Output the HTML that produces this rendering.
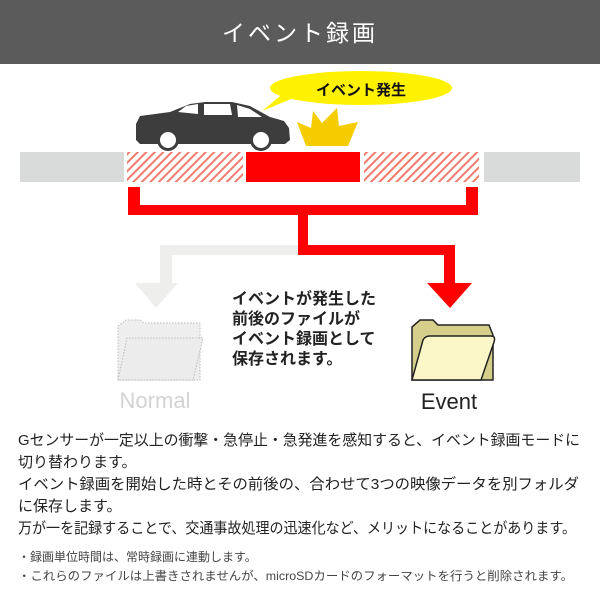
<!DOCTYPE html>
<html><head><meta charset="utf-8"><style>
body{margin:0;background:#fff}
svg{display:block}
text{font-family:"Liberation Sans","Noto Sans CJK JP",sans-serif}
</style></head><body>
<svg width="600" height="600" viewBox="0 0 600 600" xmlns="http://www.w3.org/2000/svg">
<defs>
<pattern id="h" width="6" height="6" patternUnits="userSpaceOnUse" patternTransform="rotate(45)">
<rect width="6" height="6" fill="#fff"/><rect width="2" height="6" fill="#f47a6e"/>
</pattern>
</defs>
<rect x="0" y="0" width="600" height="64" fill="#5b5b5b"/>
<text x="300" y="41" font-size="23" fill="#fff" text-anchor="middle" letter-spacing="3">イベント録画</text>

<rect x="20" y="152" width="560" height="30" fill="#d9dbdb"/>
<rect x="124" y="150" width="360" height="34" fill="#fff"/>
<rect x="127" y="152" width="116" height="30" fill="url(#h)"/>
<rect x="246" y="152" width="114" height="30" fill="#f00"/>
<rect x="364" y="152" width="115" height="30" fill="url(#h)"/>

<path d="M160 245 H300 V255 H172 V283 H178 L156 308 L135 283 H160 Z" fill="#eeeeec"/>
<path d="M128 187 H140 V205 H466 V187 H478 V215 H308 V245 H455 V283 H472 L450 308 L427 283 H444 V255 H298 V215 H128 Z" fill="#f00"/>

<ellipse cx="361" cy="88" rx="91" ry="17" fill="#fff200"/>
<path d="M285 92 L262 111 L296 97 Z" fill="#fff200"/>
<text x="361" y="95" font-size="15" font-weight="bold" fill="#111" text-anchor="middle">イベント発生</text>
<path d="M297 122 L311 128 L313 111 L322 123 L337 108 L339 126 L358 122 L348 146 L306 146 Z" fill="#f5cc00"/>

<!-- car -->
<path d="M136 140 L136 124 L140 116 L170 112 L190 104 L205 102 L232 102 L250 106 L270 117 L284 121 L289 128 L290 140 L285 144 L140 144 Z" fill="#3d3d3d"/>
<path d="M178 112 L186 106 L198 104 L198 114 Z M204 104 L230 104 L232 115 L204 115 Z M237 105 L250 109 L262 117 L238 117 Z" fill="#fff"/>
<circle cx="168" cy="140" r="11" fill="#3d3d3d"/><circle cx="168" cy="140" r="8" fill="#fff"/>
<circle cx="261" cy="140" r="11" fill="#3d3d3d"/><circle cx="261" cy="140" r="8" fill="#fff"/>

<g font-size="16" font-weight="bold" fill="#222">
<text x="232" y="304">イベントが発生した</text>
<text x="232" y="324">前後のファイルが</text>
<text x="232" y="344">イベント録画として</text>
<text x="232" y="364">保存されます。</text>
</g>

<path d="M118 380 V326 L126 320 H140 L144 323 H200 V380 Z" fill="#eeeeee" stroke="#bbb" stroke-dasharray="1.5 1.5" stroke-width="1"/>
<path d="M118 380 L127 338 H203 L193 380 Z" fill="#ececec" stroke="#bbb" stroke-dasharray="1.5 1.5" stroke-width="1"/>
<text x="155" y="408" font-size="22" fill="#d3d3d3" text-anchor="middle">Normal</text>

<path d="M412 380 V327 L420 320 H433 L438 325 H489 L493 335 V380 Z" fill="#d6cf8c" stroke="#222" stroke-width="1.5"/>
<path d="M412 380 L423 340 Q425 336 430 336 H491 Q496 336 494 342 L481 380 Z" fill="#fbf7c8" stroke="#222" stroke-width="1.5"/>
<text x="449" y="409" font-size="22" fill="#222" text-anchor="middle">Event</text>

<g font-size="15" fill="#222">
<text x="18" y="445" textLength="562" lengthAdjust="spacingAndGlyphs">Gセンサーが一定以上の衝撃・急停止・急発進を感知すると、イベント録画モードに</text>
<text x="18" y="467">切り替わります。</text>
<text x="18" y="489" textLength="561" lengthAdjust="spacingAndGlyphs">イベント録画を開始した時とその前後の、合わせて3つの映像データを別フォルダ</text>
<text x="18" y="511">に保存します。</text>
<text x="18" y="533" textLength="558" lengthAdjust="spacingAndGlyphs">万が一を記録することで、交通事故処理の迅速化など、メリットになることがあります。</text>
</g>
<g font-size="12" fill="#444">
<text x="18" y="561">・録画単位時間は、常時録画に連動します。</text>
<text x="18" y="580" textLength="555" lengthAdjust="spacingAndGlyphs">・これらのファイルは上書きされませんが、microSDカードのフォーマットを行うと削除されます。</text>
</g>
</svg>
</body></html>
